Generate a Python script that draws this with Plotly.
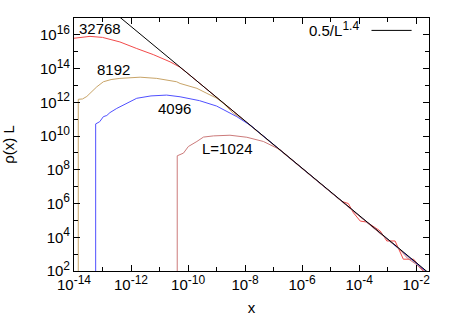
import plotly.graph_objects as go

# ---- data (log10 values) ----
L32768_lx = [-14.0, -13.7, -13.44, -13.0, -12.39, -11.8, -11.22, -10.63, -10.3, -10.05, -9.58, -9.0, -8.0, -7.0,
             -6.0, -5.0, -4.6, -4.38, -4.2, -3.96, -3.73, -3.26, -3.03, -2.74, -2.45, -2.09, -1.95, -1.74, -1.6]
L32768_ly = [15.80, 15.88, 15.91, 15.85, 15.58, 15.19, 14.83, 14.40, 14.10, 13.77, 13.10, 12.28, 10.88, 9.48,
             8.08, 6.68, 6.12, 6.00, 5.45, 4.96, 4.90, 4.37, 3.78, 3.78, 2.70, 2.70, 2.40, 2.00, 1.60]

L8192_lx = [-13.85, -13.85, -13.7, -13.55, -13.44, -13.2, -12.97, -12.7, -12.39, -11.68, -11.1, -10.4, -10.28,
            -9.69, -9.34, -8.99, -8.76, -8.41, -8.06, -7.0, -6.0, -5.0, -4.0, -3.0, -2.0, -1.6]
L8192_ly = [0.0, 12.18, 12.20, 12.35, 12.53, 12.92, 13.22, 13.35, 13.42, 13.49, 13.42, 13.22, 13.12,
            12.83, 12.53, 12.24, 11.94, 11.35, 10.96, 9.48, 8.08, 6.68, 5.28, 3.88, 2.48, 1.90]

L4096_lx = [-13.24, -13.24, -13.1, -12.97, -12.85, -12.74, -12.5, -12.15, -11.8, -11.3, -10.75, -10.28, -9.6,
            -9.0, -8.29, -7.8, -7.0, -6.0, -5.0, -4.0, -3.0, -2.0, -1.6]
L4096_ly = [0.0, 10.72, 10.85, 11.15, 11.22, 11.39, 11.64, 11.94, 12.24, 12.38, 12.43, 12.33, 12.10,
            11.78, 11.15, 10.62, 9.48, 8.08, 6.68, 5.28, 3.88, 2.48, 1.90]

L1024_lx = [-10.38, -10.38, -10.16, -9.99, -9.69, -9.46, -9.11, -8.53, -7.94, -7.36, -6.77, -6.42, -6.0,
            -5.0, -4.0, -3.5, -3.0, -2.7, -2.3, -2.0, -1.7]
L1024_ly = [0.0, 8.83, 8.99, 9.38, 9.68, 9.94, 10.01, 10.05, 9.93, 9.68, 9.19, 8.69, 8.08,
            6.68, 5.25, 4.55, 3.85, 3.50, 2.75, 2.40, 1.90]

fit_x = [1e-13, 0.03]          # 0.5/L^1.4 line endpoints
fit_y = [7.92e17, 67.8]

label_names = ["32768", "8192", "4096", "L=1024"]
label_pos = [(-13.105, 16.35), (-12.63, 13.94), (-10.49, 11.66), (-8.62, 9.24)]

ytick_major = list(range(2, 17, 2))
ytick_minor = list(range(3, 18, 2))
xtick_major = list(range(-14, -1, 2))
xtick_minor = list(range(-13, -1, 2))

def pw(v):
    return [10 ** a for a in v]

def sci(e):
    return "10<sup><span style='font-size:12px'>%d</span></sup>" % e

fig = go.Figure()
series = [
    (L32768_lx, L32768_ly, "#f24a4a"),
    (L8192_lx, L8192_ly, "#c8a468"),
    (L4096_lx, L4096_ly, "#5050ff"),
    (L1024_lx, L1024_ly, "#cc7a7a"),
]
for lx, ly, c in series:
    fig.add_trace(go.Scatter(x=pw(lx), y=pw(ly), mode="lines",
                             line=dict(color=c, width=1), showlegend=False, hoverinfo="skip"))
fig.add_trace(go.Scatter(x=fit_x, y=fit_y, mode="lines",
                         line=dict(color="#000000", width=1), showlegend=False))

FONT = "Liberation Sans, Arial, Helvetica, sans-serif"

for name, (ax, ay) in zip(label_names, label_pos):
    fig.add_annotation(x=ax, y=ay, xref="x", yref="y", text=name, showarrow=False,
                       font=dict(family=FONT, size=15, color="black"))

# key
fig.add_annotation(x=0.8076, y=0.955, xref="paper", yref="paper",
                   text="0.5/L<sup><span style='font-size:12px'>1.4</span></sup>",
                   showarrow=False, xanchor="right", yanchor="middle",
                   font=dict(family=FONT, size=15, color="black"))
fig.add_shape(type="line", xref="paper", yref="paper", x0=0.838, x1=0.951, y0=0.951, y1=0.951,
              line=dict(color="black", width=1))

axis_common = dict(type="log", showline=True, linecolor="black", linewidth=1, mirror="ticks",
                   ticks="inside", ticklen=6, tickcolor="black", showgrid=False, zeroline=False,
                   tickfont=dict(family=FONT, size=15, color="black"))

fig.update_xaxes(range=[-14, -1.55],
                 tickvals=[10 ** e for e in xtick_major],
                 ticktext=[sci(e) for e in xtick_major],
                 minor=dict(tickvals=[10 ** e for e in xtick_minor], ticks="inside", ticklen=4,
                            tickcolor="black", showgrid=False),
                 title=dict(text="x", font=dict(family=FONT, size=15, color="black"), standoff=10),
                 **axis_common)
fig.update_yaxes(range=[2, 17],
                 tickvals=[10 ** e for e in ytick_major],
                 ticktext=[sci(e) for e in ytick_major],
                 minor=dict(tickvals=[10 ** e for e in ytick_minor], ticks="inside", ticklen=4,
                            tickcolor="black", showgrid=False),
                 title=dict(text="ρ(x) L", font=dict(family=FONT, size=15, color="black"), standoff=24),
                 **axis_common)

fig.update_layout(width=457, height=320, margin=dict(l=74, r=28, t=18, b=49, autoexpand=False),
                  plot_bgcolor="white", paper_bgcolor="white", showlegend=False,
                  font=dict(family=FONT, size=15, color="black"))

fig.write_html("out.html", config={"displayModeBar": False},
               post_script="document.body.style.margin='0px';")
